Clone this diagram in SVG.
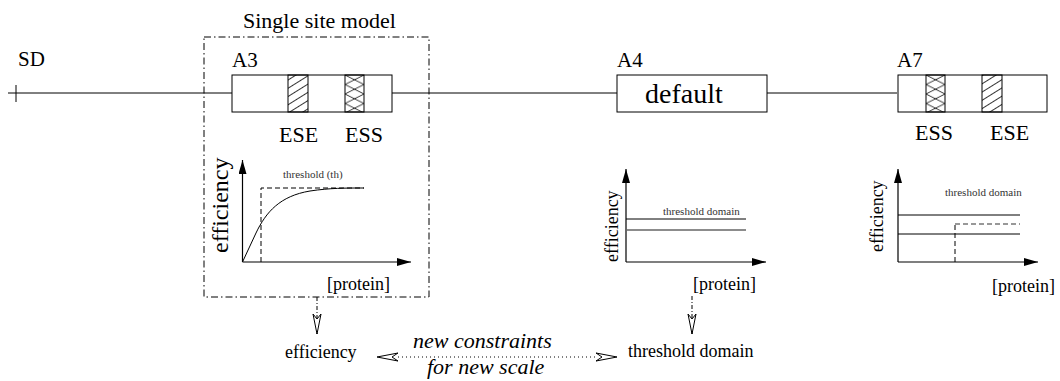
<svg xmlns="http://www.w3.org/2000/svg" width="1060" height="381" viewBox="0 0 1060 381" font-family="'Liberation Serif', 'DejaVu Serif', serif">
<style>
text{font-family:'Liberation Serif','DejaVu Serif',serif;fill:#000}
.lbl{font-size:21px}
.site{font-size:22px}
.ax{stroke:#000;stroke-width:1.2;fill:none}
.ln{stroke:#000;stroke-width:1;fill:none}
.gl{stroke:#666;stroke-width:1.5;fill:none}
.box{fill:#fff;stroke:#000;stroke-width:1}
.small{font-size:11px;fill:#333}
.prot{font-size:18px}
.dd{stroke:#000;stroke-width:1;fill:none;stroke-dasharray:7,3,1.5,3}
.ital{font-size:22px;font-style:italic}
</style>
<defs>
<pattern id="hatch" patternUnits="userSpaceOnUse" width="10" height="7" patternTransform="rotate(-32)">
<line x1="0" y1="3.5" x2="10" y2="3.5" stroke="#000" stroke-width="0.8"/>
</pattern>
<pattern id="cross" patternUnits="userSpaceOnUse" x="345" y="75" width="19" height="9.5">
<path d="M0,0 L19,9.5 M0,9.5 L19,0" stroke="#000" stroke-width="0.8"/>
</pattern>
<pattern id="cross2" patternUnits="userSpaceOnUse" x="926" y="75" width="19" height="9.5">
<path d="M0,0 L19,9.5 M0,9.5 L19,0" stroke="#000" stroke-width="0.8"/>
</pattern>
<marker id="tri" viewBox="0 0 14 8" refX="14" refY="4" markerWidth="14" markerHeight="8" markerUnits="userSpaceOnUse" orient="auto">
<path d="M0,0 L14,4 L0,8 Z" fill="#000"/>
</marker>
<marker id="open" viewBox="0 0 20 10" refX="20" refY="5" markerWidth="20" markerHeight="10" markerUnits="userSpaceOnUse" orient="auto">
<path d="M0,1 L20,5 L0,9 L5,5 Z" fill="#fff" stroke="#000" stroke-width="1"/>
</marker>
</defs>

<g id="connectors">
<line class="ln" x1="8" y1="93" x2="232" y2="93"/>
<line class="ln" x1="16" y1="85" x2="16" y2="102"/>
<line class="ln" x1="392" y1="93" x2="617" y2="93" stroke="#333"/>
<line class="ln" x1="767" y1="93" x2="897" y2="93" stroke="#333"/>
<line x1="317" y1="297" x2="317" y2="334" stroke="#000" stroke-width="1" stroke-dasharray="4,2,1,2" marker-end="url(#open)"/>
<line x1="692" y1="296" x2="692" y2="334" stroke="#000" stroke-width="1" stroke-dasharray="4,2,1,2" marker-end="url(#open)"/>
<line x1="398" y1="357" x2="596" y2="357" stroke="#000" stroke-width="1" stroke-dasharray="1,3"/>
<path d="M398,353 L377,357 L398,361 L392,357 Z" fill="#fff" stroke="#000" stroke-width="1"/>
<path d="M596,353 L617,357 L596,361 L602,357 Z" fill="#fff" stroke="#000" stroke-width="1"/>
</g>

<g id="single-site-model">
<rect class="dd" x="204" y="37" width="225" height="260"/>
<text class="site" x="243" y="28">Single site model</text>
</g>

<g id="SD">
<text class="lbl" x="18" y="66">SD</text>
</g>

<g id="A3">
<text class="lbl" x="232" y="67">A3</text>
<rect class="box" x="232" y="75" width="160" height="37"/>
<rect x="288" y="75" width="20" height="37" fill="url(#hatch)" stroke="#000" stroke-width="1"/>
<rect x="345" y="75" width="19" height="37" fill="url(#cross)" stroke="#000" stroke-width="1"/>
<text class="site" x="279" y="142">ESE</text>
<text class="site" x="345" y="142">ESS</text>
</g>

<g id="graph-A3">
<line class="ax" x1="242.5" y1="262" x2="242.5" y2="160" marker-end="url(#tri)"/>
<line class="ax" x1="242.5" y1="262" x2="411" y2="262" marker-end="url(#tri)"/>
<path d="M261,262 L261,188 L364,188" fill="none" stroke="#000" stroke-width="1" stroke-dasharray="5,3"/>
<path d="M242.5,262 L256,233 C266,212 280,196 310,191 C330,188 345,188 364,188" class="ln"/>
<text class="small" x="283" y="178">threshold (th)</text>
<text x="0" y="0" font-size="24" transform="translate(228,253) rotate(-90)">efficiency</text>
<text class="prot" x="327" y="290">[protein]</text>
</g>

<g id="A4">
<text class="lbl" x="617" y="67">A4</text>
<rect class="box" x="617" y="75" width="150" height="37"/>
<text x="645" y="103" font-size="28">default</text>
</g>

<g id="graph-A4">
<line class="ax" x1="626" y1="262" x2="626" y2="169" marker-end="url(#tri)"/>
<line class="ax" x1="626" y1="262" x2="766" y2="262" marker-end="url(#tri)"/>
<line class="ln" x1="626" y1="219" x2="746" y2="219"/>
<line class="gl" x1="626" y1="230" x2="746" y2="230"/>
<text class="small" x="663" y="215">threshold domain</text>
<text x="0" y="0" font-size="18" transform="translate(618,262) rotate(-90)">efficiency</text>
<text class="prot" x="693" y="290">[protein]</text>
</g>

<g id="A7">
<text class="lbl" x="897" y="67">A7</text>
<rect class="box" x="898" y="75" width="149" height="37"/>
<rect x="926" y="75" width="19" height="37" fill="url(#cross2)" stroke="#000" stroke-width="1"/>
<rect x="982" y="75" width="20" height="37" fill="url(#hatch)" stroke="#000" stroke-width="1"/>
<text class="site" x="915" y="140">ESS</text>
<text class="site" x="990" y="140">ESE</text>
</g>

<g id="graph-A7">
<line class="ax" x1="898" y1="262" x2="898" y2="169" marker-end="url(#tri)"/>
<line class="ax" x1="898" y1="262" x2="1038" y2="262" marker-end="url(#tri)"/>
<line class="ln" x1="898" y1="215" x2="1020" y2="215"/>
<line class="ln" x1="898" y1="234" x2="1020" y2="234"/>
<path d="M955,262 L955,224" fill="none" stroke="#000" stroke-width="1" stroke-dasharray="5,3"/>
<path d="M955,224 L1020,224" fill="none" stroke="#777" stroke-width="1.5" stroke-dasharray="5,3"/>
<text class="small" x="945" y="196">threshold domain</text>
<text x="0" y="0" font-size="18" transform="translate(883,252) rotate(-90)">efficiency</text>
<text class="prot" x="992" y="292">[protein]</text>
</g>

<g id="efficiency-label">
<text class="prot" x="285" y="358">efficiency</text>
</g>
<g id="threshold-label">
<text class="prot" x="628" y="357">threshold domain</text>
</g>
<g id="constraint-label">
<text class="ital" x="413" y="348">new constraints</text>
<text class="ital" x="427" y="374">for new scale</text>
</g>
</svg>
